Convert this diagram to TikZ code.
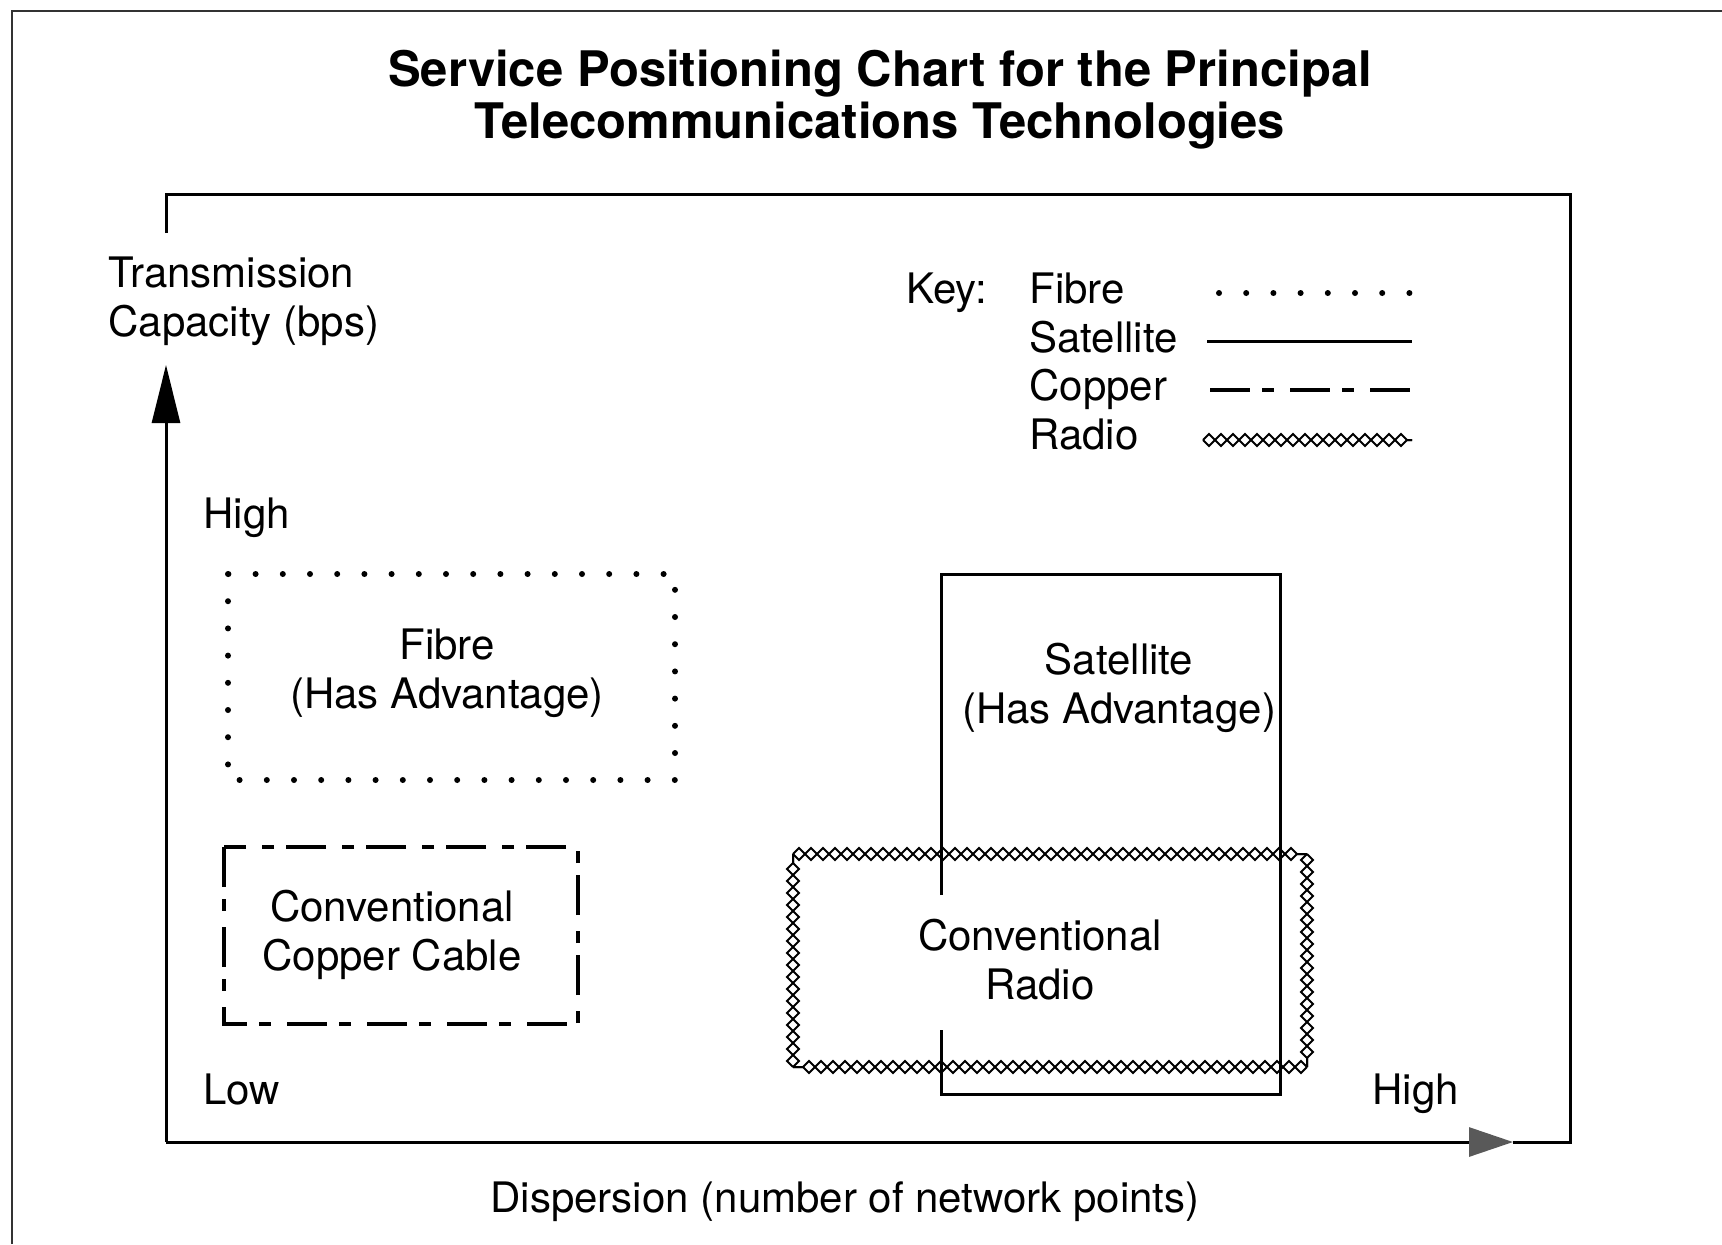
\documentclass[tikz,border=0pt]{standalone}
\usepackage{fontspec}
\setmainfont{TeX Gyre Heros}
\usetikzlibrary{arrows.meta,decorations.pathmorphing}
\tikzset{
  txt/.style={inner sep=0pt, font=\fontsize{21}{24.5}\selectfont},
  titletxt/.style={inner sep=0pt, align=center, font=\bfseries\fontsize{24.5}{26}\selectfont},
  fibreline/.style={line width=3pt, line cap=round, dash pattern=on 0pt off 13.6pt},
  satline/.style={line width=1.5pt},
  copperline/.style={line width=1.6pt, dash pattern=on 20pt off 6pt on 6pt off 8pt},
  radioline/.style={line width=1pt, decorate, decoration={zigzag, segment length=12pt, amplitude=3pt}},
  radiomirror/.style={radioline, decoration={mirror}},
}
\begin{document}
\begin{tikzpicture}[x=0.5pt, y=-0.5pt]
\useasboundingbox (0,0) rectangle (1722,1244);
\draw[line width=1pt, gray!40!black] (12,1244) -- (12,11) -- (1722,11);
\node[titletxt] (title) at (880,100) {Service Positioning Chart for the Principal\\Telecommunications Technologies};
\draw[satline] (166,233) -- (166,194) -- (1570,194) -- (1570,1142) -- (1513,1142);
\draw[satline, -{Triangle[length=29pt,width=14pt]}] (166,1142) -- (166,365);
\draw[satline, -{Triangle[length=22pt,width=14.5pt,color=gray!70!black]}] (166,1142) -- (1513,1142);
\node[txt, align=left, anchor=west] (ycap) at (108,301) {Transmission\\Capacity (bps)};
\node[txt, anchor=base west] (yhigh) at (203,528) {High};
\node[txt, anchor=base west] (ylow) at (203,1104) {Low};
\node[txt, anchor=base west] (xhigh) at (1372,1104) {High};
\node[txt, anchor=base] (xcap) at (845,1212) {Dispersion (number of network points)};
% key
\node[txt, anchor=base west] (key) at (906,303) {Key:};
\node[txt, anchor=base west] (kfibre) at (1029,303) {Fibre};
\node[txt, anchor=base west] (ksat) at (1029,352) {Satellite};
\node[txt, anchor=base west] (kcopper) at (1029,400) {Copper};
\node[txt, anchor=base west] (kradio) at (1029,449) {Radio};
\draw[fibreline] (1219,293) -- (1412,293);
\draw[satline] (1207,341) -- (1412,341);
\draw[copperline] (1210,390) -- (1412,390);
\draw[radioline] (1203,440) -- (1412,440);
\draw[radiomirror] (1203,440) -- (1412,440);
% regions
\draw[fibreline] (228,574) rectangle (675,780);
\node[txt, align=center] (fibre) at (447,673) {Fibre\\(Has Advantage)};
\draw[copperline] (224,847) rectangle (578,1024);
\node[txt, align=center] (copper) at (392,935) {Conventional\\Copper Cable};
\draw[satline] (941,895) -- (941,574) -- (1280,574) -- (1280,1094) -- (941,1094) -- (941,1030);
\node[txt, align=center] (sat) at (1119,688) {Satellite\\(Has Advantage)};
\foreach \a/\b in {{793,854}/{1307,854}, {1307,854}/{1307,1067}, {1307,1067}/{793,1067}, {793,1067}/{793,854}} {
  \draw[radioline] (\a) -- (\b);
  \draw[radiomirror] (\a) -- (\b);
}
\node[txt, align=center] (radio) at (1040,960) {Conventional\\Radio};
\end{tikzpicture}
\end{document}
